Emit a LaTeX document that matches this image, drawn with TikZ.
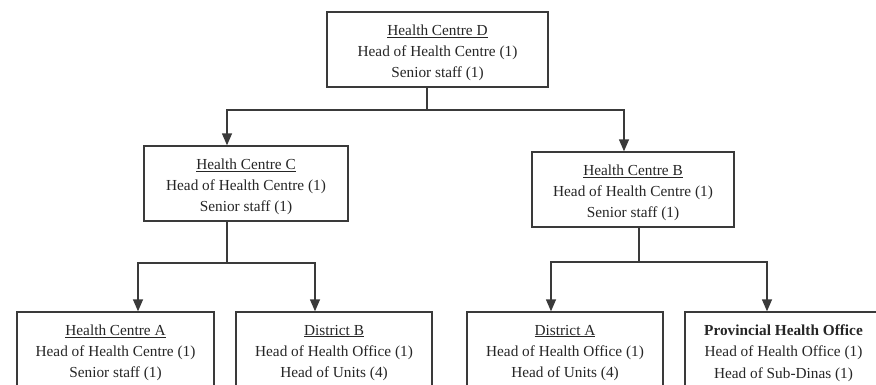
\documentclass[tikz,border=0pt]{standalone}
\usepackage{fontspec}
\setmainfont{Liberation Serif}
\usetikzlibrary{arrows.meta}
\definecolor{ink}{HTML}{262626}
\definecolor{edge}{HTML}{3A3A3A}
\tikzset{
  box/.style={draw=edge, line width=1.4pt, fill=white, minimum height=75pt, inner sep=0pt},
  lines/.style={align=center, text=ink, font=\fontsize{15.3}{21.3}\selectfont, inner sep=0pt},
  conn/.style={draw=edge, line width=1.4pt},
  arr/.style={conn, -{Triangle[width=10pt,length=12pt]}},
}
\begin{document}
\begin{tikzpicture}[x=1pt,y=-1pt]
\useasboundingbox (0,0) rectangle (876,384);
\clip (0,0) rectangle (876,384);
% boxes
\node[box, minimum width=221pt] (D) at (437.5,49.5) {};
\node[box, minimum width=204pt] (C) at (246,183.5) {};
\node[box, minimum width=202pt] (B) at (633,189.5) {};
\node[box, minimum width=197pt] (A) at (115.5,349.5) {};
\node[box, minimum width=196pt] (DB) at (334,349.5) {};
\node[box, minimum width=196pt] (DA) at (565,349.5) {};
\node[box, minimum width=197pt] (P) at (783.5,349.5) {};
% texts
\node[lines] (Dt) at ([yshift=-3.5pt]D.center) {\underline{Health Centre D}\\Head of Health Centre (1)\\Senior staff (1)};
\node[lines] (Ct) at ([yshift=-3.5pt]C.center) {\underline{Health Centre C}\\Head of Health Centre (1)\\Senior staff (1)};
\node[lines] (Bt) at ([yshift=-3.5pt]B.center) {\underline{Health Centre B}\\Head of Health Centre (1)\\Senior staff (1)};
\node[lines] (At) at ([yshift=-3.5pt]A.center) {\underline{Health Centre A}\\Head of Health Centre (1)\\Senior staff (1)};
\node[lines] (DBt) at ([yshift=-3.5pt]DB.center) {\underline{District B}\\Head of Health Office (1)\\Head of Units (4)};
\node[lines] (DAt) at ([yshift=-3.5pt]DA.center) {\underline{District A}\\Head of Health Office (1)\\Head of Units (4)};
\node[lines] (Pt) at ([yshift=-3.5pt]P.center) {\textbf{Provincial Health Office}\\Head of Health Office (1)\\Head of Sub-Dinas (1)};
% junctions
\coordinate (jD) at (427,110);
\coordinate (jC) at (227,263);
\coordinate (jB) at (639,262);
% connectors
\draw[conn] (D.south -| jD) -- (jD);
\draw[arr] (jD) -| ([xshift=-19pt]C.north);
\draw[arr] (jD) -| ([xshift=-9pt]B.north);
\draw[conn] (C.south -| jC) -- (jC);
\draw[arr] (jC) -| ([xshift=22.5pt]A.north);
\draw[arr] (jC) -| ([xshift=-19pt]DB.north);
\draw[conn] (B.south -| jB) -- (jB);
\draw[arr] (jB) -| ([xshift=-14pt]DA.north);
\draw[arr] (jB) -| ([xshift=-16.5pt]P.north);
\end{tikzpicture}
\end{document}
